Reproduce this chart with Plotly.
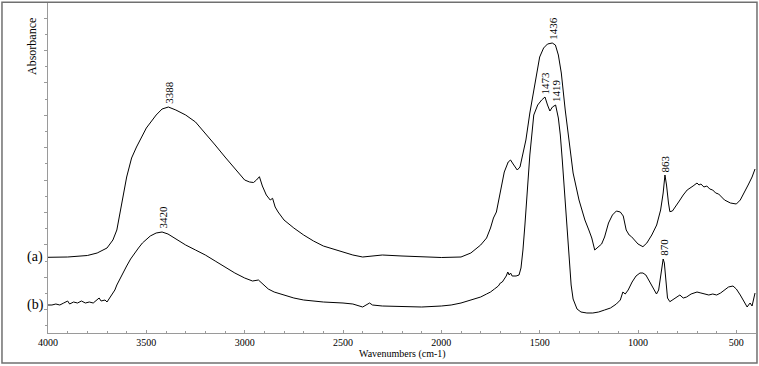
import numpy as np
import plotly.graph_objects as go

# ---- data (absorbance, arbitrary units) ----
wn_a = [4000, 3900, 3800, 3750, 3700, 3670, 3650, 3625, 3600, 3575, 3550, 3500, 3450, 3420, 3388,
        3350, 3300, 3250, 3200, 3150, 3100, 3050, 3000, 2975, 2955, 2940, 2925, 2910, 2890, 2870,
        2858, 2845, 2830, 2800, 2750, 2700, 2650, 2600, 2500, 2450, 2400, 2370, 2300, 2200, 2100,
        2000, 1900, 1850, 1800, 1770, 1750, 1735, 1720, 1700, 1680, 1660, 1648, 1635, 1614, 1600,
        1590, 1570, 1550, 1520, 1500, 1480, 1460, 1436, 1420, 1405, 1390, 1370, 1350, 1330, 1300,
        1270, 1250, 1235, 1220, 1200, 1185, 1170, 1150, 1130, 1110, 1090, 1075, 1060, 1045, 1033,
        1015, 1000, 975, 955, 930, 905, 885, 872, 863, 855, 845, 838, 825, 810, 790, 770, 750, 720,
        700, 690, 680, 665, 650, 635, 620, 605, 590, 575, 560, 530, 500, 480, 460, 440, 420, 405]
abs_a = [0.757, 0.760, 0.775, 0.800, 0.850, 0.930, 1.030, 1.280, 1.560, 1.750, 1.860, 2.050, 2.180,
         2.240, 2.260, 2.230, 2.180, 2.110, 2.000, 1.880, 1.760, 1.650, 1.530, 1.510, 1.505, 1.530,
         1.563, 1.470, 1.380, 1.330, 1.347, 1.260, 1.210, 1.130, 1.050, 0.980, 0.920, 0.870, 0.810,
         0.780, 0.760, 0.765, 0.780, 0.770, 0.760, 0.755, 0.760, 0.800, 0.880, 0.950, 1.050, 1.150,
         1.210, 1.430, 1.610, 1.710, 1.730, 1.690, 1.630, 1.660, 1.750, 1.930, 2.200, 2.560, 2.760,
         2.850, 2.890, 2.900, 2.880, 2.780, 2.600, 2.230, 1.930, 1.600, 1.330, 1.130, 1.030, 0.950,
         0.830, 0.860, 0.890, 0.960, 1.100, 1.180, 1.220, 1.210, 1.170, 1.030, 0.980, 0.963, 0.920,
         0.890, 0.863, 0.900, 0.980, 1.080, 1.230, 1.400, 1.580, 1.480, 1.300, 1.213, 1.220, 1.260,
         1.320, 1.380, 1.430, 1.470, 1.500, 1.480, 1.490, 1.460, 1.470, 1.440, 1.430, 1.400, 1.390,
         1.360, 1.330, 1.300, 1.290, 1.330, 1.400, 1.480, 1.560, 1.640]

wn_b = [4000, 3980, 3960, 3940, 3920, 3900, 3890, 3870, 3850, 3830, 3810, 3790, 3770, 3750, 3740,
        3730, 3710, 3700, 3690, 3680, 3670, 3660, 3650, 3640, 3620, 3600, 3580, 3560, 3540, 3520,
        3500, 3480, 3450, 3420, 3390, 3350, 3300, 3250, 3200, 3150, 3100, 3050, 3000, 2960, 2930,
        2910, 2880, 2850, 2800, 2750, 2700, 2600, 2500, 2450, 2400, 2380, 2365, 2350, 2300, 2200,
        2100, 2000, 1950, 1900, 1850, 1800, 1770, 1750, 1730, 1710, 1700, 1690, 1680, 1670, 1662,
        1655, 1648, 1640, 1620, 1605, 1595, 1585, 1575, 1565, 1550, 1530, 1510, 1490, 1473, 1460,
        1448, 1435, 1419, 1405, 1395, 1385, 1372, 1360, 1350, 1340, 1330, 1310, 1290, 1260, 1230,
        1200, 1170, 1140, 1110, 1090, 1077, 1065, 1050, 1030, 1010, 990, 975, 960, 940, 920, 906,
        895, 885, 872, 866, 860, 850, 838, 825, 800, 787, 770, 753, 730, 700, 680, 660, 640, 620,
        600, 580, 560, 540, 517, 500, 480, 460, 445, 438, 430, 420, 412, 405]
abs_b = [0.280, 0.280, 0.290, 0.280, 0.300, 0.320, 0.290, 0.310, 0.300, 0.320, 0.300, 0.310, 0.300,
         0.340, 0.350, 0.320, 0.330, 0.310, 0.340, 0.370, 0.400, 0.430, 0.480, 0.520, 0.600, 0.670,
         0.740, 0.800, 0.850, 0.900, 0.940, 0.970, 1.000, 1.010, 0.990, 0.940, 0.880, 0.830, 0.780,
         0.720, 0.660, 0.600, 0.550, 0.520, 0.530, 0.490, 0.440, 0.410, 0.380, 0.350, 0.330, 0.310,
         0.300, 0.290, 0.260, 0.280, 0.300, 0.280, 0.270, 0.265, 0.260, 0.270, 0.280, 0.300, 0.330,
         0.360, 0.390, 0.410, 0.440, 0.470, 0.500, 0.510, 0.540, 0.570, 0.610, 0.580, 0.600, 0.570,
         0.570, 0.580, 0.650, 0.830, 1.080, 1.380, 1.780, 2.180, 2.280, 2.330, 2.360, 2.280, 2.220,
         2.260, 2.280, 2.150, 1.980, 1.730, 1.360, 0.980, 0.700, 0.480, 0.340, 0.240, 0.210, 0.200,
         0.200, 0.210, 0.230, 0.250, 0.290, 0.330, 0.410, 0.390, 0.430, 0.510, 0.570, 0.600, 0.600,
         0.580, 0.510, 0.430, 0.390, 0.430, 0.580, 0.740, 0.700, 0.530, 0.350, 0.313, 0.330, 0.360,
         0.380, 0.350, 0.360, 0.390, 0.410, 0.400, 0.390, 0.380, 0.390, 0.380, 0.400, 0.430, 0.460,
         0.470, 0.440, 0.380, 0.310, 0.260, 0.280, 0.300, 0.270, 0.330, 0.400]

peak_labels = ["3388", "1436", "863", "3420", "1473", "1419", "870"]
peak_wn = [3388, 1436, 863, 3420, 1473, 1419, 872]
peak_series = ["a", "a", "a", "b", "b", "b", "b"]

x_ticks = [4000, 3500, 3000, 2500, 2000, 1500, 1000, 500]

FONT = "Liberation Serif, Times New Roman, serif"
AXIS_GRAY = "#9a9a9a"

fig = go.Figure()
fig.add_trace(go.Scatter(x=wn_a, y=abs_a, mode="lines", line=dict(color="black", width=1),
                         showlegend=False, hoverinfo="skip"))
fig.add_trace(go.Scatter(x=wn_b, y=abs_b, mode="lines", line=dict(color="black", width=1),
                         showlegend=False, hoverinfo="skip"))

series = {"a": (wn_a, abs_a), "b": (wn_b, abs_b)}
for lab, w, s in zip(peak_labels, peak_wn, peak_series):
    xs, ys = series[s]
    yv = float(np.interp(w, xs[::-1], ys[::-1]))
    fig.add_annotation(x=w, y=yv, text=lab, textangle=-90, showarrow=False,
                       xanchor="center", yanchor="bottom", yshift=2, borderpad=0,
                       font=dict(family=FONT, size=11, color="black"))

# curve labels
fig.add_annotation(x=-0.018, xref="paper", y=abs_a[0], yref="y", text="(a)", showarrow=False,
                   xanchor="center", yanchor="middle", font=dict(family=FONT, size=14, color="black"))
fig.add_annotation(x=-0.018, xref="paper", y=abs_b[0], yref="y", text="(b)", showarrow=False,
                   xanchor="center", yanchor="middle", font=dict(family=FONT, size=14, color="black"))

fig.add_annotation(x=-0.0226, xref="paper", y=0.867, yref="paper", text="Absorbance",
                   textangle=-90, showarrow=False, xanchor="center", yanchor="middle",
                   font=dict(family=FONT, size=12, color="black"))
fig.add_annotation(x=0.5, xref="paper", y=-0.0634, yref="paper", text="Wavenumbers (cm-1)",
                   showarrow=False, xanchor="center", yanchor="middle",
                   font=dict(family=FONT, size=10, color="black"))

# outer frame
fig.add_shape(type="rect", xref="paper", yref="paper", x0=-0.065, x1=1.0014, y0=-0.0906, y1=0.999,
              line=dict(color="#707070", width=1.5), fillcolor="rgba(0,0,0,0)", layer="above")

fig.update_layout(
    width=759, height=366,
    margin=dict(l=48, r=3, t=2, b=33),
    paper_bgcolor="white", plot_bgcolor="white",
    font=dict(family=FONT, color="black"),
    xaxis=dict(range=[4000, 400], tickvals=x_ticks, ticktext=[str(v) for v in x_ticks],
               showgrid=False, zeroline=False, showline=True, linecolor=AXIS_GRAY, linewidth=1,
               ticks="inside", ticklen=3, tickcolor=AXIS_GRAY,
               minor=dict(dtick=100, tick0=0, ticks="inside", ticklen=2, tickcolor=AXIS_GRAY, showgrid=False),
               tickfont=dict(family=FONT, size=10, color="black")),
    yaxis=dict(range=[0, 3.31], showgrid=False, zeroline=False, showline=True, linecolor=AXIS_GRAY,
               linewidth=1, ticks="outside", ticklen=3, tickcolor=AXIS_GRAY, tick0=0.233, dtick=0.324,
               minor=dict(tick0=0.071, dtick=0.162, ticks="outside", ticklen=2, tickcolor=AXIS_GRAY, showgrid=False),
               showticklabels=False),
)

fig.write_html("out.html", config={"displayModeBar": False},
               post_script="document.body.style.margin='0px';document.body.style.overflow='hidden';")
